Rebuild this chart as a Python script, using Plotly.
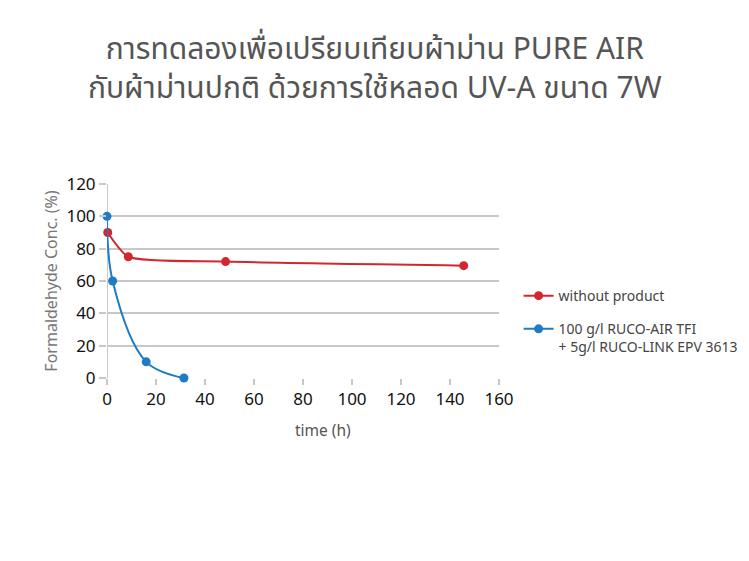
import plotly.graph_objects as go

# data
time_without = [0.3, 8.7, 48.4, 145.6]
conc_without = [90, 75, 72, 69.5]
time_ruco = [0, 2.3, 16.0, 31.4]
conc_ruco = [100, 60, 10, 0]

x_ticks = [0, 20, 40, 60, 80, 100, 120, 140, 160]
y_ticks = [0, 20, 40, 60, 80, 100, 120]

title_text = ('การทดลองเพื่อเปรียบเทียบผ้าม่าน PURE AIR<br>'
              'กับผ้าม่านปกติ ด้วยการใช้หลอด UV-A ขนาด 7W')

font_family = 'Noto Sans, Noto Sans Thai, DejaVu Sans, sans-serif'
red = '#d1282f'
blue = '#1f7bc4'
grid = '#c8c8c8'

fig = go.Figure()

fig.add_trace(go.Scatter(
    x=time_without, y=conc_without,
    mode='lines+markers',
    name='without product',
    legendgroup='a',
    line=dict(color=red, width=2, shape='spline', smoothing=0.6),
    marker=dict(color=red, size=9),
    cliponaxis=False
))

fig.add_trace(go.Scatter(
    x=time_ruco, y=conc_ruco,
    mode='lines+markers',
    name='100 g/l RUCO-AIR TFI<br>+ 5g/l RUCO-LINK EPV 3613',
    legendgroup='b',
    line=dict(color=blue, width=2, shape='spline', smoothing=1.0),
    marker=dict(color=blue, size=9),
    cliponaxis=False
))

# title as one two-line annotation
fig.add_annotation(
    text=title_text, xref='paper', yref='paper',
    x=(367 - 99) / 392, y=1 + (184 - 67) / 194,
    xanchor='center', yanchor='middle', showarrow=False,
    font=dict(size=30, color='#555555')
)

# x-axis title sits a little right of the plot centre in the reference
fig.add_annotation(
    text='time (h)', xref='paper', yref='paper',
    x=0.551, y=-52 / 194, xanchor='center', yanchor='middle',
    showarrow=False, font=dict(size=15.5, color='#555555')
)

fig.update_layout(
    width=749, height=561,
    margin=dict(l=99, r=258, t=176, b=191),
    paper_bgcolor='white',
    plot_bgcolor='white',
    font=dict(family=font_family),
    showlegend=True,
    legend=dict(
        x=1.05, y=0.505, xanchor='left', yanchor='top',
        font=dict(size=14, color='#444444'),
        valign='top',
        traceorder='grouped',
        tracegroupgap=12,
        bgcolor='rgba(0,0,0,0)'
    ),
    xaxis=dict(
        range=[0, 160],
        tickvals=x_ticks,
        showgrid=False,
        zeroline=False,
        showline=False,
        ticks='outside', ticklen=6, tickwidth=2, tickcolor=grid,
        tickfont=dict(size=17, color='#111111')
    ),
    yaxis=dict(
        range=[0, 120],
        tickvals=y_ticks,
        showgrid=True, gridcolor=grid, gridwidth=2,
        zeroline=False,
        showline=False,
        ticks='outside', ticklen=7, tickwidth=2, tickcolor=grid,
        tickfont=dict(size=17, color='#111111'),
        title=dict(text='Formaldehyde Conc. (%)', font=dict(size=16, color='#777777'), standoff=4)
    )
)

# grey vertical axis line at x = 0
fig.add_vline(x=0, line=dict(color=grid, width=2), layer='below')

fig.write_html('out.html')
